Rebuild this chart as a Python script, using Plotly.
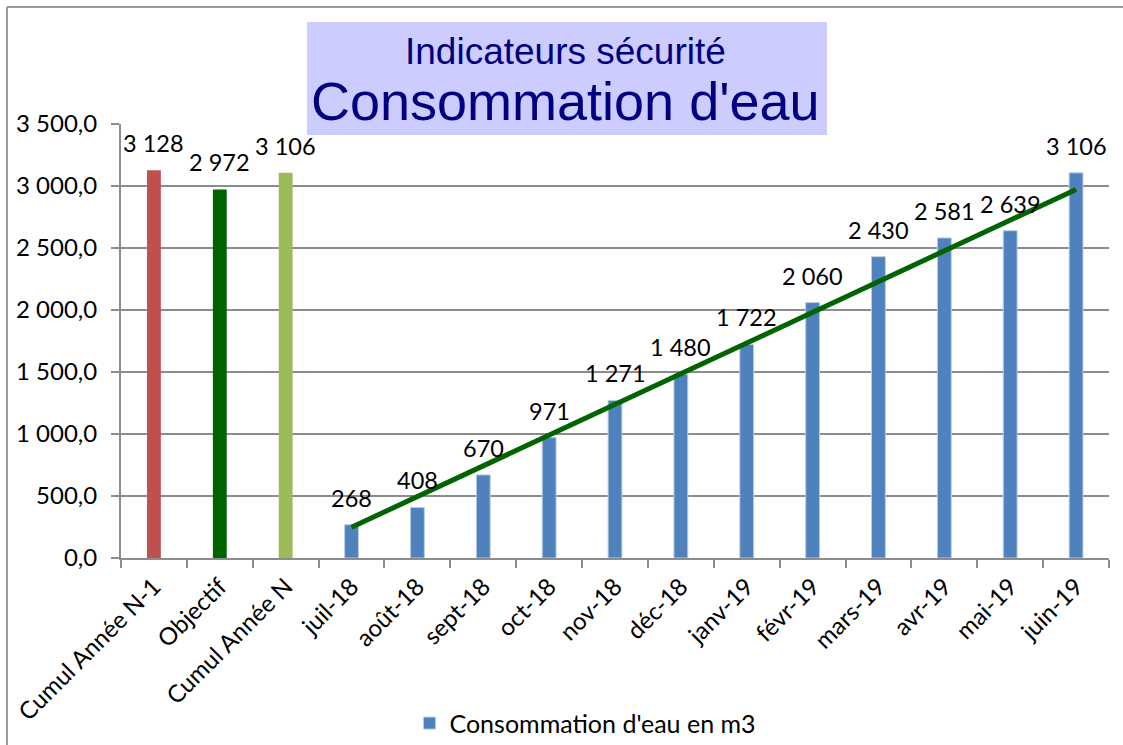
import plotly.graph_objects as go

# ---- data ----
summary_categories = ["Cumul Année N-1", "Objectif", "Cumul Année N"]
summary_values = [3128, 2972, 3106]
summary_colors = ["#C0504D", "#006400", "#9BBB59"]

month_categories = ["juil-18", "août-18", "sept-18", "oct-18", "nov-18", "déc-18",
                    "janv-19", "févr-19", "mars-19", "avr-19", "mai-19", "juin-19"]
month_values = [268, 408, 670, 971, 1271, 1480, 1722, 2060, 2430, 2581, 2639, 3106]

# prorated objective line
objective_line = [248, 495, 743, 991, 1238, 1486, 1734, 1981, 2229, 2477, 2724, 2972]

y_tickvals = [0, 500, 1000, 1500, 2000, 2500, 3000, 3500]
y_ticktext = ["0,0", "500,0", "1 000,0", "1 500,0", "2 000,0", "2 500,0", "3 000,0", "3 500,0"]

all_categories = summary_categories + month_categories

FONT = "Lato, 'Open Sans', sans-serif"
TITLE_FONT = "'Liberation Sans', Arial, sans-serif"
GRID = "#8C8C8C"


def fmt(v):
    return f"{v:,}".replace(",", " ")


fig = go.Figure()

fig.add_trace(go.Bar(
    x=summary_categories, y=summary_values,
    marker=dict(color=summary_colors, line=dict(width=0)),
    width=0.21, showlegend=False, hoverinfo="x+y",
))
fig.add_trace(go.Bar(
    x=month_categories, y=month_values,
    marker=dict(color="#4F81BD", line=dict(color="#B9CDE5", width=1)),
    width=0.21, name="Consommation d'eau en m3",
))
fig.add_trace(go.Scatter(
    x=month_categories, y=objective_line, mode="lines",
    line=dict(color="#006400", width=5), showlegend=False,
))

annotations = []
for c, v in zip(summary_categories + month_categories, summary_values + month_values):
    annotations.append(dict(
        x=c, y=v, xref="x", yref="y", text=fmt(v), showarrow=False,
        yanchor="bottom", yshift=11, font=dict(family=FONT, size=23.5, color="#000000"),
    ))

# title box texts
annotations.append(dict(
    x=0.450, y=1.168, xref="paper", yref="paper", text="Indicateurs sécurité",
    showarrow=False, xanchor="center", yanchor="middle",
    font=dict(family=TITLE_FONT, size=37, color="#000080"),
))
annotations.append(dict(
    x=0.450, y=1.054, xref="paper", yref="paper", text="Consommation d'eau",
    showarrow=False, xanchor="center", yanchor="middle",
    font=dict(family=TITLE_FONT, size=54, color="#000080"),
))

shapes = [
    # title background box
    dict(type="rect", xref="paper", yref="paper", x0=0.1883, x1=0.7146, y0=0.9747, y1=1.235,
         fillcolor="#CCCCFF", line=dict(width=0), layer="above"),
    # outer chart border (top and left visible)
    dict(type="line", xref="paper", yref="paper", x0=-0.1154, x1=1.03, y0=1.2696, y1=1.2696,
         line=dict(color="#9A9A9A", width=2)),
    dict(type="line", xref="paper", yref="paper", x0=-0.1154, x1=-0.1154, y0=1.2696, y1=-0.45,
         line=dict(color="#9A9A9A", width=2)),
]

fig.update_layout(
    width=1123, height=745,
    margin=dict(l=121, r=14, t=124, b=187, autoexpand=False),
    paper_bgcolor="white", plot_bgcolor="white",
    barmode="overlay",
    font=dict(family=FONT, size=23, color="#000000"),
    showlegend=True,
    legend=dict(orientation="h", x=0.292, y=-0.328, xanchor="left", yanchor="top",
                font=dict(family=FONT, size=25, color="#000000"), bgcolor="rgba(0,0,0,0)"),
    annotations=annotations,
    shapes=shapes,
)

fig.update_xaxes(
    categoryorder="array", categoryarray=all_categories,
    range=[-0.5, len(all_categories) - 0.5], automargin=False,
    tickangle=-45, showline=True, linecolor=GRID, linewidth=2,
    ticks="outside", tickson="boundaries", ticklen=8, tickcolor=GRID, tickwidth=2,
    ticklabelstandoff=3,
    showgrid=False, tickfont=dict(family=FONT, size=24, color="#000000"),
)
fig.update_yaxes(
    range=[0, 3500], tickvals=y_tickvals, ticktext=y_ticktext, automargin=False,
    showline=True, linecolor=GRID, linewidth=2,
    ticks="outside", ticklen=8, tickcolor=GRID, tickwidth=2, ticklabelstandoff=9,
    showgrid=True, gridcolor=GRID, gridwidth=2, zeroline=False,
    tickfont=dict(family=FONT, size=24, color="#000000"),
)

fig.write_html("out.html", config={"displayModeBar": False},
               post_script="document.body.style.margin='0px';")
